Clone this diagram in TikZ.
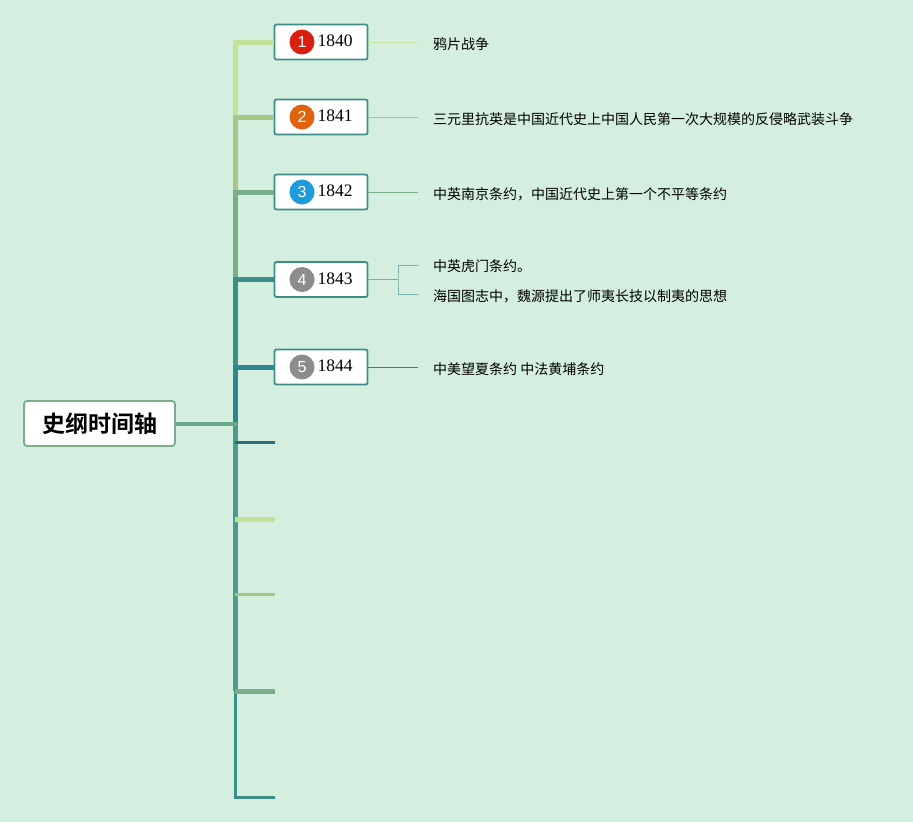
\documentclass[tikz,border=0pt]{standalone}
\usepackage{fontspec}
\setmainfont{Liberation Serif}
\setsansfont{Liberation Sans}
\newfontfamily\cjk{Noto Sans CJK SC}
\newfontfamily\cjkbold{Noto Sans CJK SC Bold}
\definecolor{bgc}{HTML}{D4EFE0}
\definecolor{cA}{HTML}{C4E29A}
\definecolor{cB}{HTML}{A5C886}
\definecolor{cC}{HTML}{7AAE8A}
\definecolor{cD}{HTML}{3B8F88}
\definecolor{cE}{HTML}{2E8790}
\definecolor{cF}{HTML}{236F80}
\definecolor{cMix}{HTML}{4F9A88}
\definecolor{boxline}{HTML}{3E8C88}
\definecolor{red1}{HTML}{D9200F}
\definecolor{orange1}{HTML}{E0620F}
\definecolor{blue1}{HTML}{1D9BDB}
\definecolor{gray1}{HTML}{8C8C8C}
\tikzset{
  yearbox/.style={draw=boxline, line width=1.8pt, fill=white, rounded corners=2pt,
    minimum width=93pt, minimum height=35pt, inner sep=0pt},
  numdot/.style={circle, minimum size=25pt, inner sep=0pt, text=white,
    font=\sffamily\fontsize{16}{16}\selectfont},
  yeartext/.style={anchor=west, inner sep=0pt, font=\fontsize{17.5}{18}\selectfont},
  leaf/.style={anchor=west, inner sep=0pt, font=\cjk\fontsize{14}{14}\selectfont},
  thickbr/.style={line width=5pt},
  thinbr/.style={line width=3pt},
  childln/.style={line width=1pt},
}
\begin{document}
\begin{tikzpicture}[x=1pt,y=-1pt]
\useasboundingbox[fill=bgc] (0,0) rectangle (913,822);
% root
\node[draw=cC, line width=1.8pt, fill=white, rounded corners=3pt,
  minimum width=151pt, minimum height=45pt, inner sep=0pt,
  font=\cjkbold\fontsize{23}{23}\selectfont] (root) at (99.5,423.5) {史纲时间轴};
\coordinate (J) at (235,423.5);
% year boxes
\node[yearbox] (b1) at (321,42) {};
\node[yearbox] (b2) at (321,117) {};
\node[yearbox] (b3) at (321,192) {};
\node[yearbox] (b4) at (321,279.5) {};
\node[yearbox] (b5) at (321,367) {};
\node[numdot, fill=red1] (n1) at (302,42) {1};
\node[numdot, fill=orange1] (n2) at (302,117) {2};
\node[numdot, fill=blue1] (n3) at (302,192) {3};
\node[numdot, fill=gray1] (n4) at (302,279.5) {4};
\node[numdot, fill=gray1] (n5) at (302,367) {5};
\node[yeartext] (y1) at (317.5,41) {1840};
\node[yeartext] (y2) at (317.5,116) {1841};
\node[yeartext] (y3) at (317.5,191) {1842};
\node[yeartext] (y4) at (317.5,278.5) {1843};
\node[yeartext] (y5) at (317.5,366) {1844};
% upper branches
\draw[thickbr, cA] (J) |- (b1.west);
\draw[thickbr, cB] (J) |- (b2.west);
\draw[thickbr, cC] (J) |- (b3.west);
\draw[thickbr, cD] (J) |- (b4.west);
\draw[thickbr, cE] (J) |- (b5.west);
% lower branches
\coordinate (t6) at (235,442);
\coordinate (t7) at (235,519);
\coordinate (t8) at (235,594);
\coordinate (t9) at (235,691);
\coordinate (t10) at (235,797);
\coordinate (e6) at (275,442);
\coordinate (e7) at (275,519);
\coordinate (e8) at (275,594);
\coordinate (e9) at (275,691);
\coordinate (e10) at (275,797);
\draw[thinbr, cD] (t9) -- (t10) -- (e10);
\draw[thickbr, cMix] (J) -- (t9);
\draw[thinbr, cF] (t6) -- (e6);
\draw[thickbr, cA] (t7) -- (e7);
\draw[thinbr, cB] (t8) -- (e8);
\draw[thickbr, cC] (t9) -- (e9);
\draw[line width=4pt, cC!80!cD] (root.east) -- ([xshift=2pt]J);
% leaves
\node[leaf] (l1) at (433,44) {鸦片战争};
\node[leaf] (l2) at (433,119) {三元里抗英是中国近代史上中国人民第一次大规模的反侵略武装斗争};
\node[leaf] (l3) at (433,194) {中英南京条约，中国近代史上第一个不平等条约};
\node[leaf] (l4a) at (433,266) {中英虎门条约。};
\node[leaf] (l4b) at (433,296) {海国图志中，魏源提出了师夷长技以制夷的思想};
\node[leaf] (l5) at (433,369) {中美望夏条约 中法黄埔条约};
\coordinate (k1) at (418,42);
\coordinate (k2) at (418,117);
\coordinate (k3) at (418,192);
\coordinate (k5) at (418,367);
\coordinate (kb) at (398,279.5);
\coordinate (k4a) at (418,265);
\coordinate (k4b) at (418,294.5);
\draw[childln, cA] (b1.east) -- (k1);
\draw[childln, cB] (b2.east) -- (k2);
\draw[childln, cC] (b3.east) -- (k3);
\draw[childln, cE] (b5.east) -- (k5);
\draw[childln, cD!70!white] (b4.east) -- (kb);
\draw[childln, cD!70!white] (k4a) -| (kb) |- (k4b);
\end{tikzpicture}
\end{document}
